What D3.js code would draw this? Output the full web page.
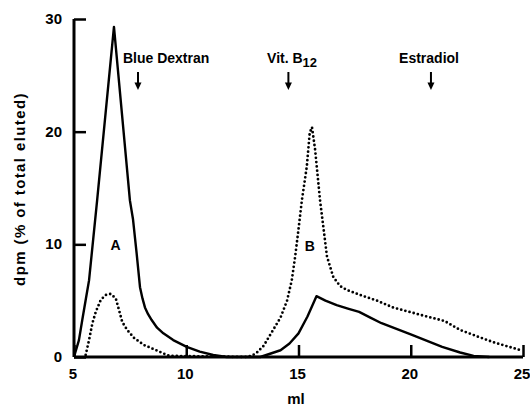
<!DOCTYPE html>
<html>
<head>
<meta charset="utf-8">
<script src="https://cdn.jsdelivr.net/npm/d3@7"></script>
<style>
  html, body { margin: 0; padding: 0; background: #fff; }
  svg { display: block; }
  text { font-family: "Liberation Sans", Arial, sans-serif; font-weight: bold; fill: #000; }
</style>
</head>
<body>
<script>
// ---- data ----
const xTicks = [5, 10, 15, 20, 25];
const yTicks = [0, 10, 20, 30];

// solid curve (ml, dpm %)
const solidMl  = [5.0, 5.22, 5.37, 5.52, 5.67, 6.03, 6.78, 7.49, 7.63, 7.79, 7.94, 8.05, 8.16, 8.3, 8.46, 8.7, 8.98, 9.42, 10.02, 10.6, 11.2, 11.8, 13.3, 13.6, 14.2, 14.6, 15.0, 15.4, 15.8, 16.2, 16.7, 17.2, 17.7, 18.2, 18.7, 20.0, 21.4, 22.2, 22.8, 23.5];
const solidVal = [0,   1.5,  3.3,  5.06, 6.8,  13.9, 29.3, 13.9, 12.2, 9.2,  6.2,  5.2,  4.4,  3.8, 3.28, 2.6, 2.1,  1.5,  0.9,   0.47, 0.18, 0,    0,    0.2,  0.6,  1.2,  2.1,  3.6,  5.4,  5.0,  4.6,  4.3,  4.0,  3.5,  3.0,  2.0,  0.9,  0.4,  0.1,  0];

// dotted curve (ml, dpm %)
const dotMl  = [5.52, 5.67, 5.82, 5.97, 6.19, 6.41, 6.63, 6.86, 7.0, 7.15, 7.37, 7.67, 8.12, 8.64, 9.0, 9.25, 12.75, 13.1, 13.45, 13.87, 14.2, 14.49, 14.7, 14.85, 14.98, 15.15, 15.37, 15.5, 15.6, 15.74, 15.96, 16.27, 16.55, 16.85, 17.15, 17.75, 18.5, 19.2, 20.7, 21.5, 22.2, 23.0, 23.7, 24.3, 24.9];
const dotVal = [0.18, 1.5, 3.0,  4.0,  5.06, 5.5,  5.6,  5.2,  4.2, 3.1,  2.4,  1.7,  1.06, 0.62, 0.3, 0.1, 0,     0.3,  1.0,   2.4,   3.5,  5.0,   6.8,  8.9,   11.0,  13.9,  16.9,  19.9, 20.4, 18.4,  13.9,  8.9,   7.1,   6.3,   5.95,  5.5,   5.0,  4.4,  3.6,  3.2,  2.4,  1.8,  1.3,  0.95, 0.6];

// reference markers: arrow position and label start (ml)
const markerNames = ["Blue Dextran", "Vit. B", "Estradiol"];
const markerSubs  = ["", "12", ""];
const markerMl    = [7.85, 14.55, 20.9];
const markerLabelMl = [7.18, 13.6, 19.48];

const peakNames = ["A", "B"];
const peakMl    = [6.85, 15.5];
const peakVal   = [9.5, 9.4];

// ---- chart ----
const W = 530, H = 408;
const svg = d3.select("body").append("svg").attr("width", W).attr("height", H);

const x = d3.scaleLinear().domain([5, 25]).range([74, 523]);
const y = d3.scaleLinear().domain([0, 30]).range([357, 19]);

// axes
const xAxis = d3.axisTop(x).tickValues(xTicks).tickSize(12).tickFormat("");
const gx = svg.append("g").attr("transform", `translate(0,${y(0)})`).call(xAxis);
gx.select(".domain").attr("d", `M${x(5)},0H${x(25)}`).attr("stroke-width", 3);
gx.selectAll(".tick line").attr("stroke-width", 2.5);

const yAxis = d3.axisRight(y).tickValues(yTicks).tickSize(12).tickFormat("");
const gy = svg.append("g").attr("transform", `translate(${x(5)},0)`).call(yAxis);
gy.select(".domain").attr("d", `M0,${y(30)}V${y(0)}`).attr("stroke-width", 3);
gy.selectAll(".tick line").attr("stroke-width", 2.5);

// tick labels
svg.append("g").selectAll("text").data(xTicks).join("text")
  .attr("x", d => x(d) - 1).attr("y", 379)
  .attr("text-anchor", "middle").attr("font-size", 15)
  .text(d => d);
svg.append("g").selectAll("text").data(yTicks).join("text")
  .attr("x", 62).attr("y", d => y(d) + 5)
  .attr("text-anchor", "end").attr("font-size", 15)
  .text(d => d);

// axis titles
svg.append("text").attr("x", 296).attr("y", 404)
  .attr("text-anchor", "middle").attr("font-size", 15).text("ml");
svg.append("text")
  .attr("transform", `translate(25,189) rotate(-90)`)
  .attr("text-anchor", "middle").attr("font-size", 15)
  .attr("letter-spacing", 1.4)
  .text("dpm (% of total eluted)");

// curves
const line = d3.line().x(d => x(d[0])).y(d => y(d[1])).curve(d3.curveLinear);
svg.append("path")
  .datum(solidMl.map((m, i) => [m, solidVal[i]]))
  .attr("d", line).attr("fill", "none").attr("stroke", "#000")
  .attr("stroke-width", 2.4).attr("stroke-linejoin", "round");
svg.append("path")
  .datum(dotMl.map((m, i) => [m, dotVal[i]]))
  .attr("d", line).attr("fill", "none").attr("stroke", "#000")
  .attr("stroke-width", 2.8).attr("stroke-linecap", "round")
  .attr("stroke-dasharray", "0 4.3");

// markers
const markers = markerNames.map((n, i) => ({ name: n, sub: markerSubs[i], ml: markerMl[i], lml: markerLabelMl[i] }));
const mg = svg.append("g").selectAll("g").data(markers).join("g");
mg.append("line")
  .attr("x1", d => x(d.ml)).attr("x2", d => x(d.ml))
  .attr("y1", 72).attr("y2", 84)
  .attr("stroke", "#000").attr("stroke-width", 2);
mg.append("path")
  .attr("d", d => `M${x(d.ml) - 3.5},82.5L${x(d.ml) + 3.5},82.5L${x(d.ml)},90Z`)
  .attr("fill", "#000");
const mt = mg.append("text")
  .attr("x", d => x(d.lml)).attr("y", 63)
  .attr("text-anchor", "start").attr("font-size", 14);
mt.append("tspan").text(d => d.name);
mt.filter(d => d.sub).append("tspan")
  .attr("dy", 4).attr("font-size", 13).text(d => d.sub);

// peak labels
svg.append("g").selectAll("text").data(peakNames.map((n, i) => ({ name: n, ml: peakMl[i], val: peakVal[i] }))).join("text")
  .attr("x", d => x(d.ml)).attr("y", d => y(d.val))
  .attr("text-anchor", "middle").attr("font-size", 14)
  .text(d => d.name);
</script>
</body>
</html>
